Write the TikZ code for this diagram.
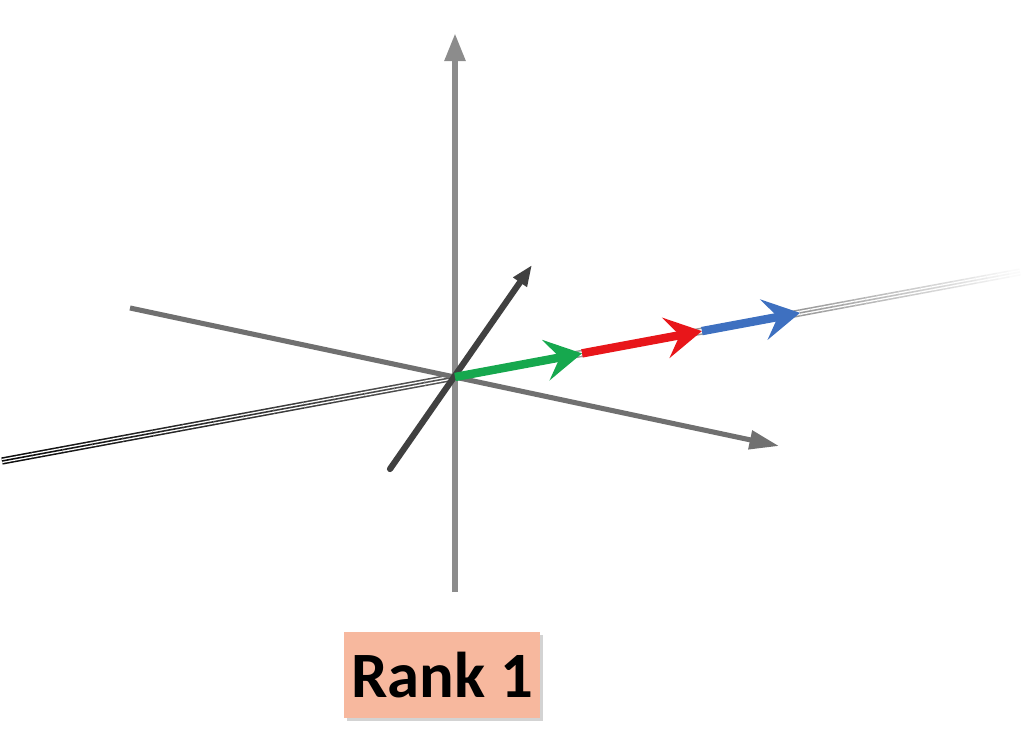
\documentclass[tikz,border=0pt]{standalone}
\usepackage{fontspec}
\setsansfont{Carlito}
\usetikzlibrary{arrows.meta}
\usetikzlibrary{calc}
\usetikzlibrary{shadows}

\definecolor{axisgray}{RGB}{112,112,112}
\definecolor{vertgray}{RGB}{140,140,140}
\definecolor{darkaxis}{RGB}{64,64,64}
\definecolor{vecgreen}{RGB}{22,168,78}
\definecolor{vecred}{RGB}{232,22,26}
\definecolor{vecblue}{RGB}{62,112,192}
\definecolor{rankfill}{RGB}{247,184,158}

\tikzset{
  stripeout/.style={draw=#1, line width=1.1pt, double=white, double distance=3pt},
  stripein/.style={draw=#1, line width=1.1pt},
  plainaxis/.style={draw=axisgray, line width=3.6pt, -{Triangle[length=21pt,width=13pt]}},
  upaxis/.style={draw=vertgray, line width=4.6pt, -{Triangle[length=20pt,width=14pt]}},
  depthaxis/.style={draw=darkaxis, line width=4.4pt, line cap=round, -{Triangle[length=15pt,width=11pt]}},
  vec/.style={draw=#1, line width=6pt, -{Stealth[length=26pt,width=29pt,inset=10pt]}},
  rankbox/.style={fill=rankfill, minimum width=4.9cm, minimum height=2.15cm,
    font=\sffamily\bfseries\fontsize{46}{50}\selectfont,
    drop shadow={shadow xshift=2pt, shadow yshift=-2pt, opacity=0.35, fill=gray}}
}

\begin{document}
\begin{tikzpicture}[x=0.025cm,y=-0.025cm]
  \useasboundingbox (0,0) rectangle (1024,753);

  % the line through the origin
  \coordinate (L) at (2,461);
  \coordinate (O) at (455,377);
  \coordinate (R) at (1020,272);
  \coordinate (G)  at ($(O)!0.2248!(R)$);
  \coordinate (Rd) at ($(O)!0.4370!(R)$);
  \coordinate (B)  at ($(O)!0.6106!(R)$);

  % left part, dark
  \foreach \i in {0,...,14}
  {
      \pgfmathtruncatemacro{\c}{95-2*\i}
      \draw[stripeout=black!\c] ($(L)!\i/15!(O)$) -- ($(L)!{(\i+1)/15}!(O)$);
      \draw[stripein=black!\c] ($(L)!\i/15!(O)$) -- ($(L)!{(\i+1)/15}!(O)$);
  }
  % under the vectors
  \draw[stripeout=black!40] (O) -- (B);
  % right part, fading out
  \foreach \i in {0,...,19}
  {
      \pgfmathtruncatemacro{\c}{40-2*\i}
      \draw[stripeout=black!\c] ($(B)!\i/20!(R)$) -- ($(B)!{(\i+1)/20}!(R)$);
      \draw[stripein=black!\c] ($(B)!\i/20!(R)$) -- ($(B)!{(\i+1)/20}!(R)$);
  }

  % the axes
  \coordinate (XStart) at (130,308);
  \coordinate (XEnd)   at (779,446);
  \coordinate (YStart) at (455,592);
  \coordinate (YEnd)   at (455,33);
  \coordinate (ZStart) at (390,469);
  \coordinate (ZEnd)   at (532,265);
  \draw[plainaxis] (XStart) -- (XEnd);
  \draw[upaxis] (YStart) -- (YEnd);
  \draw[depthaxis] (ZStart) -- (ZEnd);

  % the vectors
  \draw[vec=vecblue] (Rd) -- (B);
  \draw[vec=vecred] (G) -- (Rd);
  \draw[vec=vecgreen] (O) -- (G);

  \node[rankbox] (rank) at (442,675) {Rank 1};
\end{tikzpicture}
\end{document}
